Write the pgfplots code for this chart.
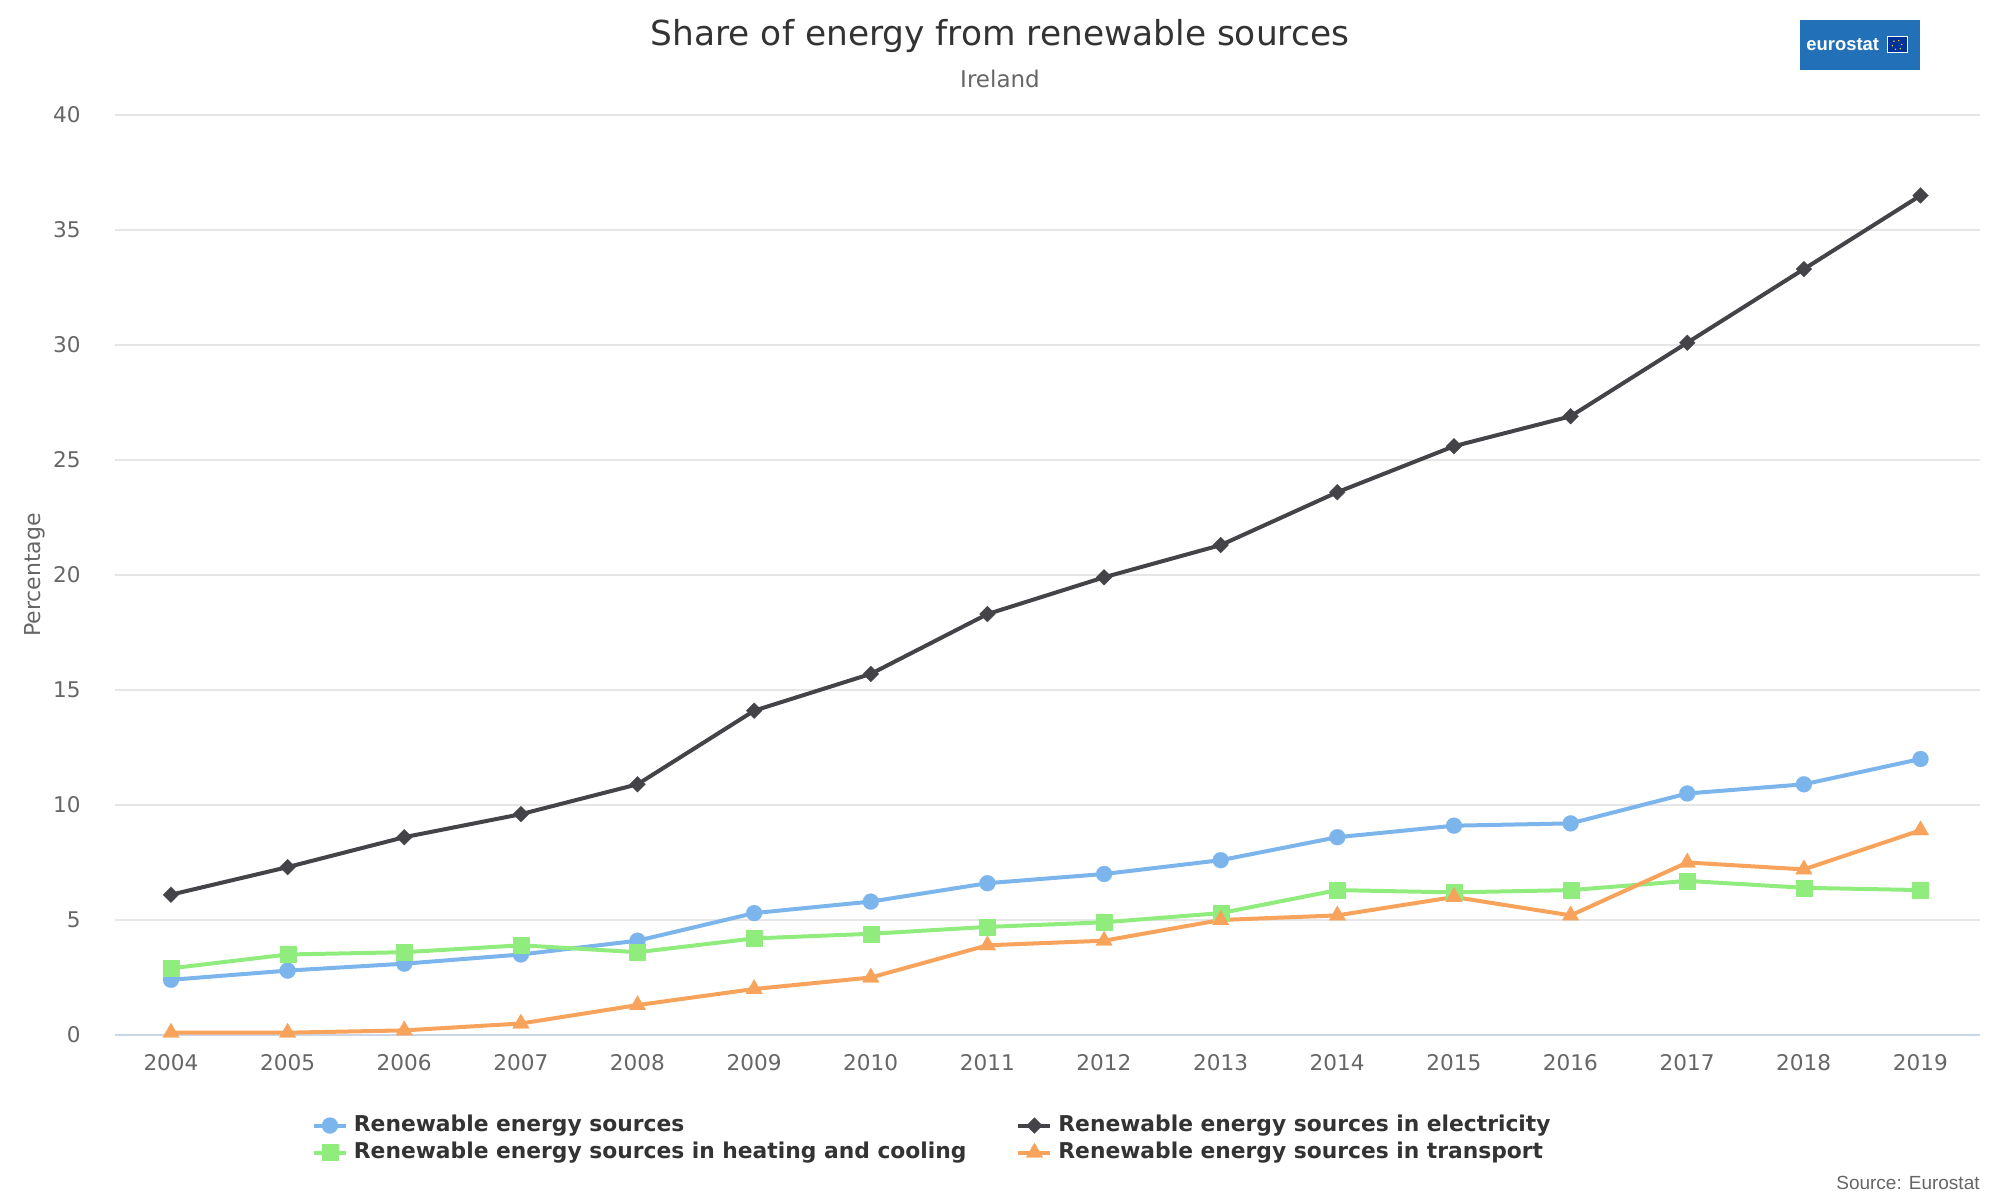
\documentclass[border=0pt]{standalone}
\usepackage{fontspec}
\setmainfont{DejaVu Sans}
\newfontfamily\srcfont{Liberation Sans}
\usepackage{pgfplots}
\usepackage{pgfplotstable}
\pgfplotsset{compat=1.18}

\definecolor{resblue}{HTML}{7CB5EC}
\definecolor{reselec}{HTML}{434348}
\definecolor{resheat}{HTML}{90ED7D}
\definecolor{restrans}{HTML}{F7A35C}
\definecolor{gridgray}{HTML}{E6E6E6}
\definecolor{axisblue}{HTML}{CCD6EB}
\definecolor{tickgray}{HTML}{666666}
\definecolor{titlegray}{HTML}{333333}
\definecolor{estatblue}{HTML}{2170B8}
\definecolor{eublue}{HTML}{003399}
\definecolor{euyellow}{HTML}{FFCC00}

% share of energy from renewable sources, Ireland (%)
\pgfplotstableread{
year res  elec heat trans
2004 2.4  6.1  2.9  0.1
2005 2.8  7.3  3.5  0.1
2006 3.1  8.6  3.6  0.2
2007 3.5  9.6  3.9  0.5
2008 4.1  10.9 3.6  1.3
2009 5.3  14.1 4.2  2.0
2010 5.8  15.7 4.4  2.5
2011 6.6  18.3 4.7  3.9
2012 7.0  19.9 4.9  4.1
2013 7.6  21.3 5.3  5.0
2014 8.6  23.6 6.3  5.2
2015 9.1  25.6 6.2  6.0
2016 9.2  26.9 6.3  5.2
2017 10.5 30.1 6.7  7.5
2018 10.9 33.3 6.4  7.2
2019 12.0 36.5 6.3  8.9
}\datatab

\begin{document}
\begin{tikzpicture}
\path[use as bounding box] (0,0) rectangle (1000bp,600bp);

\begin{axis}[
    at={(57.5bp,82.5bp)}, anchor=south west,
    scale only axis, width=932.5bp, height=460bp,
    xmin=2003.52, xmax=2019.51, ymin=0, ymax=40,
    xtick={2004,...,2019}, ytick={5,10,...,40},
    extra y ticks={0},
    extra y tick style={grid=major, grid style={axisblue, line width=1bp}},
    ymajorgrids, grid style={gridgray, line width=1bp},
    axis line style={draw=none}, major tick length=0pt,
    clip=false,
    /pgf/number format/assume math mode=true,
    /pgf/number format/1000 sep={},
    tick label style={font=\fontsize{10.8bp}{13bp}\selectfont, text=tickgray},
    yticklabel style={anchor=east, inner sep=0pt, xshift=-17bp},
    xticklabel style={anchor=north, inner sep=0pt, yshift=-9.5bp},
    ylabel={Percentage},
    every axis y label/.style={at={(axis description cs:-0.0429,0.5)},
      rotate=90, anchor=center, font=\fontsize{11bp}{13bp}\selectfont, text=tickgray},
    every axis plot/.append style={line width=2bp, line join=round},
    legend columns=2,
    legend cell align=left,
    legend style={draw=none, fill=none, inner sep=0pt, outer sep=0pt,
      at={(axis description cs:0.1056,-0.087)}, anchor=north west,
      font=\bfseries\fontsize{10.9bp}{13bp}\selectfont, text=titlegray,
      nodes={inner sep=0pt, text height=8bp, text depth=2.5bp},
      row sep=3bp,
      /tikz/every odd column/.append style={column sep=3bp},
      /tikz/every even column/.append style={column sep=25bp}},
    legend image code/.code={
      \draw[mark repeat=2, mark phase=2] plot coordinates {(0bp,0bp) (8bp,0bp) (16bp,0bp)};},
  ]

  \addplot[resblue, mark=*, mark size=4bp, mark options={line width=0.1bp}]
    table[x=year, y=res] {\datatab};
  \addlegendentry{Renewable energy sources}

  \addplot[reselec, mark=square*, mark size=2.8bp, mark options={rotate=45, line width=0.1bp}]
    table[x=year, y=elec] {\datatab};
  \addlegendentry{Renewable energy sources in electricity}

  \addplot[resheat, mark=square*, mark size=4bp, mark options={line width=0.1bp}]
    table[x=year, y=heat] {\datatab};
  \addlegendentry{Renewable energy sources in heating and cooling}

  \addplot[restrans, mark=triangle*, mark size=4.8bp, mark options={line width=0.1bp}]
    table[x=year, y=trans] {\datatab};
  \addlegendentry{Renewable energy sources in transport}
\end{axis}

% title and subtitle
\node[anchor=base, inner sep=0pt, text=titlegray, font=\fontsize{17.2bp}{20bp}\selectfont]
  at (500bp,577bp) {Share of energy from renewable sources};
\node[anchor=base, inner sep=0pt, text=tickgray, font=\fontsize{11.5bp}{14bp}\selectfont]
  at (500bp,556bp) {Ireland};

% eurostat logo
\fill[estatblue] (900bp,565bp) rectangle (960bp,590bp);
\node[anchor=west, inner sep=0pt, text=white, font=\srcfont\bfseries\fontsize{9.2bp}{10bp}\selectfont]
  at (903bp,577.5bp) {eurostat};
\draw[white, line width=0.5bp, fill=eublue] (943.5bp,573.5bp) rectangle (953.5bp,581.5bp);
\draw[euyellow, line width=0.6bp, dotted] (948.5bp,577.5bp) circle (2.5bp);

% credits
\node[anchor=base east, inner sep=0pt, text=tickgray, font=\srcfont\fontsize{9.5bp}{11bp}\selectfont]
  at (990bp,5.5bp) {Source: Eurostat};
\end{tikzpicture}
\end{document}
